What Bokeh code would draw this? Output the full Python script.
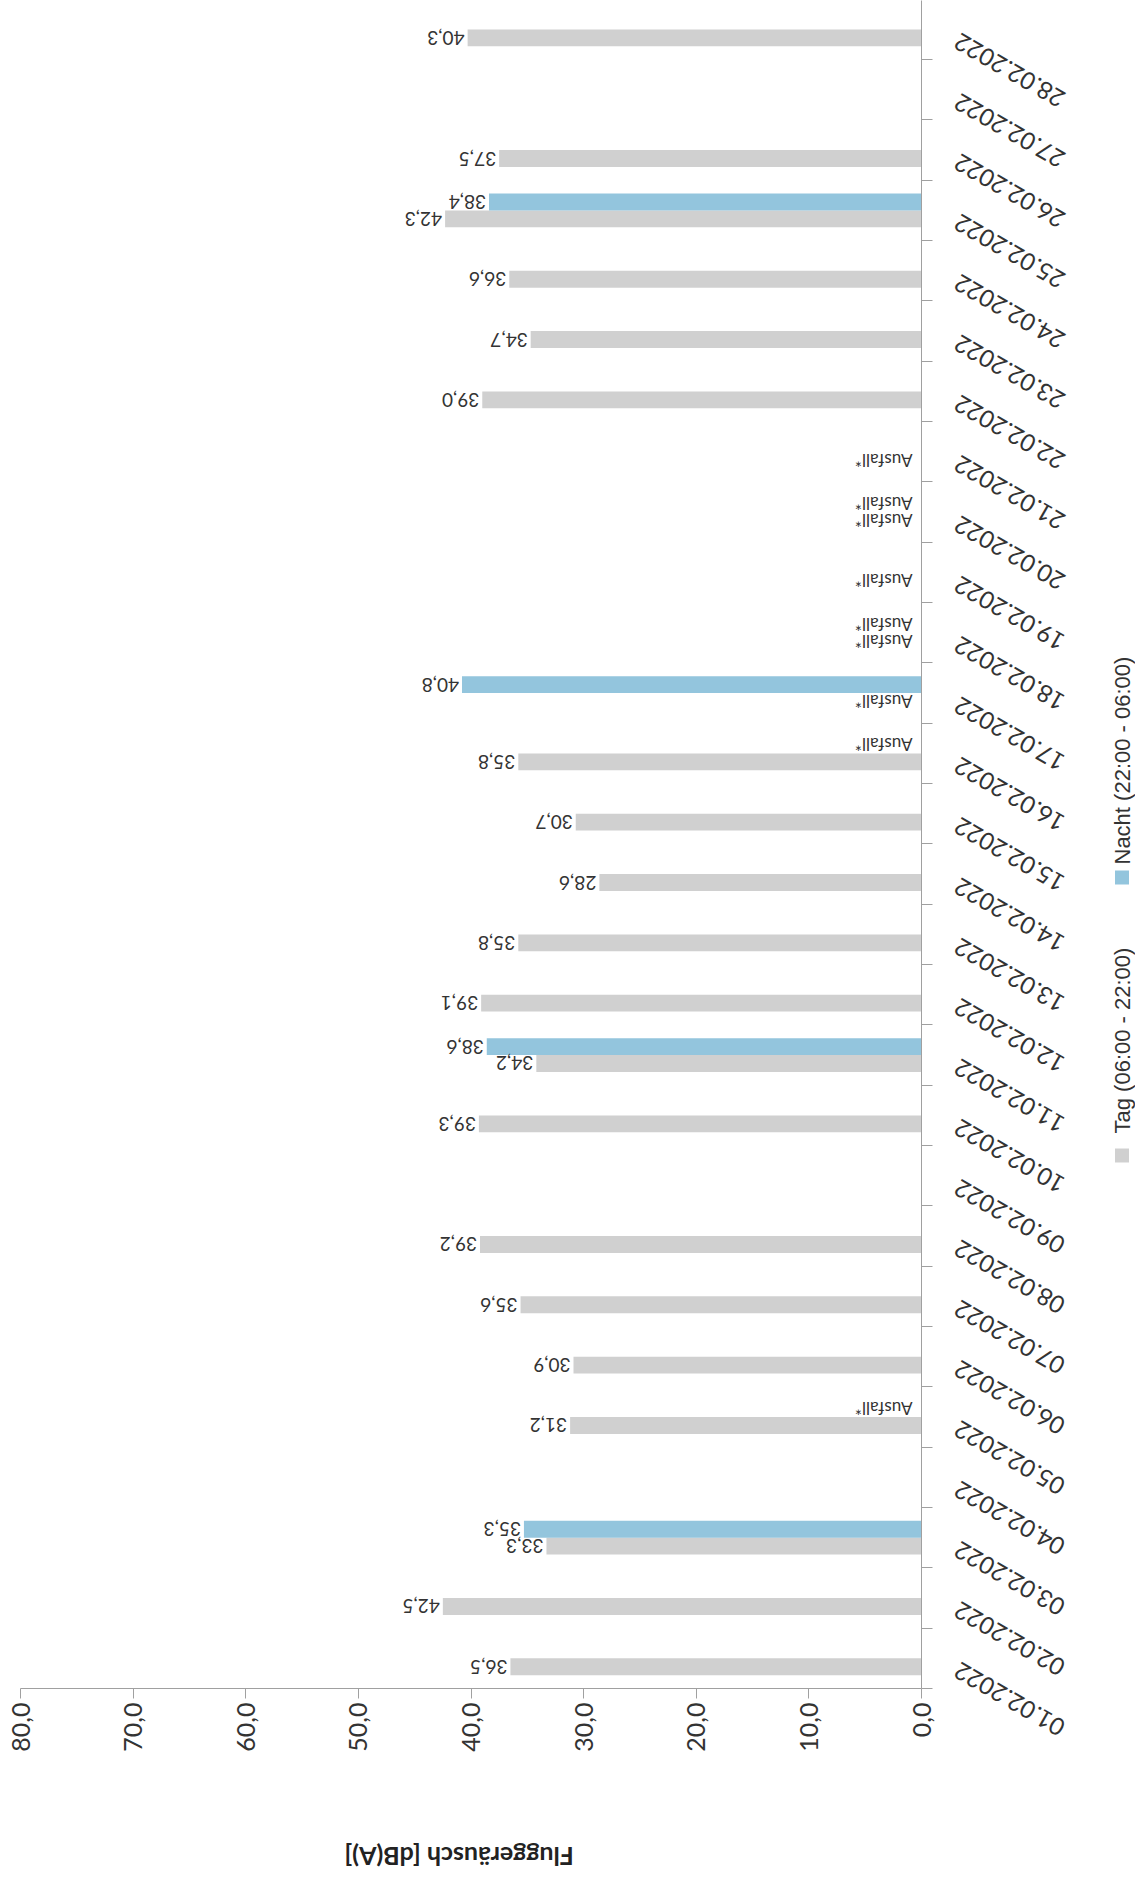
import math
from bokeh.plotting import figure
from bokeh.models import ColumnDataSource, FixedTicker, Range1d
from bokeh.layouts import row, column
from bokeh.embed import file_html
from bokeh.resources import INLINE
from bokeh.core.properties import value

# ---------------- data ----------------
dates = ["01.02.2022", "02.02.2022", "03.02.2022", "04.02.2022", "05.02.2022",
         "06.02.2022", "07.02.2022", "08.02.2022", "09.02.2022", "10.02.2022",
         "11.02.2022", "12.02.2022", "13.02.2022", "14.02.2022", "15.02.2022",
         "16.02.2022", "17.02.2022", "18.02.2022", "19.02.2022", "20.02.2022",
         "21.02.2022", "22.02.2022", "23.02.2022", "24.02.2022", "25.02.2022",
         "26.02.2022", "27.02.2022", "28.02.2022"]
tag_values = [36.5, 42.5, 33.3, None, 31.2, 30.9, 35.6, 39.2, None, 39.3,
              34.2, 39.1, 35.8, 28.6, 30.7, 35.8, None, None, None, None,
              None, 39.0, 34.7, 36.6, 42.3, 37.5, None, 40.3]
nacht_values = [None, None, 35.3, None, None, None, None, None, None, None,
                38.6, None, None, None, None, None, 40.8, None, None, None,
                None, None, None, None, 38.4, None, None, None]
tag_ausfall = ["17.02.2022", "18.02.2022", "19.02.2022", "20.02.2022", "21.02.2022"]
nacht_ausfall = ["05.02.2022", "16.02.2022", "18.02.2022", "20.02.2022"]
value_ticks = [0, 10, 20, 30, 40, 50, 60, 70, 80]
value_tick_labels = ["0,0", "10,0", "20,0", "30,0", "40,0", "50,0", "60,0", "70,0", "80,0"]
series_names = ["Tag (06:00 - 22:00)", "Nacht (22:00 - 06:00)"]
ausfall_text = "Ausfall*"
axis_title = "Fluggeräusch [dB(A)]"

# ---------------- styles / layout ----------------
GRAY = "#D0D0D0"
BLUE = "#93C5DD"
AXIS = "#A0A0A0"
TXT = "#333333"
FONT = "Lato"
DODGE = 0.14
BAR_H = 0.28

FRAME_W = 901
FRAME_H = 1688
LEFT_B = 20
RIGHT_B = 20
BOTTOM_B = 80
MAIN_W = LEFT_B + FRAME_W + RIGHT_B
MAIN_H = FRAME_H + BOTTOM_B
SIDE_W = 1135 - MAIN_W
TITLE_H = 105
Y_START, Y_END = -0.5, 27.48


def fmt(v):
    return ("%.1f" % v).replace(".", ",")


def series_source(vals, shift):
    idx = [i for i, v in enumerate(vals) if v is not None]
    return ColumnDataSource(dict(
        y=[i + shift for i in idx],
        v=[vals[i] for i in idx],
        t=[fmt(vals[i]) for i in idx],
    ))


src_tag = series_source(tag_values, -DODGE)
src_nacht = series_source(nacht_values, DODGE)
src_ausfall = ColumnDataSource(dict(
    y=[dates.index(d) - DODGE for d in tag_ausfall] + [dates.index(d) + DODGE for d in nacht_ausfall],
    x=[0] * (len(tag_ausfall) + len(nacht_ausfall)),
    t=[ausfall_text] * (len(tag_ausfall) + len(nacht_ausfall)),
))

# ---------------- main plot ----------------
p = figure(frame_width=FRAME_W, frame_height=FRAME_H,
           x_range=Range1d(80, 0), y_range=Range1d(Y_START, Y_END),
           y_axis_location="right", x_axis_location="below",
           toolbar_location=None, output_backend="svg",
           min_border_left=LEFT_B, min_border_right=RIGHT_B, min_border_top=0,
           min_border_bottom=BOTTOM_B, outline_line_color=None,
           background_fill_color="white", border_fill_color="white")

p.hbar(y="y", left=0, right="v", height=BAR_H, source=src_tag,
       fill_color=GRAY, line_color=None)
p.hbar(y="y", left=0, right="v", height=BAR_H, source=src_nacht,
       fill_color=BLUE, line_color=None)

for src in (src_tag, src_nacht):
    p.text(x="v", y="y", text="t", source=src, angle=math.pi,
           text_align="left", text_baseline="middle", x_offset=-3,
           text_font=value(FONT), text_font_size="19px", text_color=TXT)
p.text(x="x", y="y", text="t", source=src_ausfall, angle=math.pi,
       text_align="left", text_baseline="middle", x_offset=-9,
       text_font=value(FONT), text_font_size="17px", text_color=TXT)

p.xgrid.visible = False
p.ygrid.visible = False

xa = p.xaxis[0]
xa.ticker = FixedTicker(ticks=value_ticks, minor_ticks=[])
xa.major_label_overrides = {t: l for t, l in zip(value_ticks, value_tick_labels)}
xa.major_label_orientation = math.pi / 2
xa.major_tick_out = 10
xa.major_tick_in = 0
xa.minor_tick_out = 0
xa.minor_tick_in = 0
xa.axis_line_color = AXIS
xa.major_tick_line_color = AXIS
xa.major_label_text_font = FONT
xa.major_label_text_font_size = "25px"
xa.major_label_text_color = TXT
xa.major_label_standoff = 4

ya = p.yaxis[0]
ya.ticker = FixedTicker(ticks=[], minor_ticks=[k - 0.5 for k in range(len(dates) + 1)])
ya.major_tick_out = 0
ya.major_tick_in = 0
ya.minor_tick_out = 11
ya.minor_tick_in = 0
ya.axis_line_color = AXIS
ya.minor_tick_line_color = AXIS
ya.major_label_text_font_size = "0px"

# ---------------- side panel: date labels + legend ----------------
scale = FRAME_H / (Y_END - Y_START)
side_start = Y_START - (MAIN_H - FRAME_H) / scale
s = figure(frame_width=SIDE_W, frame_height=MAIN_H,
           x_range=Range1d(MAIN_W, MAIN_W + SIDE_W), y_range=Range1d(side_start, Y_END),
           toolbar_location=None, output_backend="svg",
           min_border=0, outline_line_color=None,
           x_axis_location=None, y_axis_location=None,
           background_fill_color="white", border_fill_color="white")
for g in s.grid:
    g.visible = False
s.extra_y_ranges = {"px": Range1d(MAIN_H, 0)}

label_shift = 10 / scale
date_src = ColumnDataSource(dict(y=[k - label_shift for k in range(len(dates))], t=dates,
                                 x=[956] * len(dates)))
s.text(x="x", y="y", text="t", source=date_src, angle=5 * math.pi / 6,
       text_align="right", text_baseline="middle",
       text_font=value(FONT), text_font_size="24px", text_color=TXT)

s.scatter(x=[1121.5, 1121.5], y=[1155, 877], marker="square", size=14,
          fill_color=[GRAY, BLUE], line_color=None, y_range_name="px")
s.text(x=[1122, 1122], y=[1133, 864], text=series_names, angle=math.pi / 2,
       text_align="left", text_baseline="middle", y_range_name="px",
       text_font=value("Liberation Sans"), text_font_size="22px", text_color=TXT)

# ---------------- bottom: value-axis title (upside down) ----------------
t = figure(frame_width=MAIN_W + SIDE_W, frame_height=TITLE_H,
           x_range=Range1d(0, MAIN_W + SIDE_W), y_range=Range1d(MAIN_H + TITLE_H, MAIN_H),
           toolbar_location=None, output_backend="svg",
           min_border=0, outline_line_color=None,
           x_axis_location=None, y_axis_location=None,
           background_fill_color="white", border_fill_color="white")
for g in t.grid:
    g.visible = False
t.text(x=[LEFT_B + FRAME_W / 2 - 12], y=[1856], text=[axis_title], angle=math.pi,
       text_align="center", text_baseline="middle",
       text_font=value(FONT), text_font_style="bold", text_font_size="25px",
       text_color="#222222")

layout = column(row(p, s), t)
open("out.html", "w").write(file_html(layout, INLINE))
